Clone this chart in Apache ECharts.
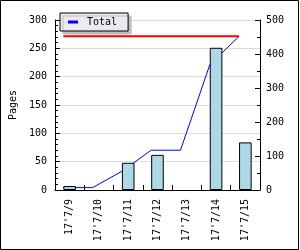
<!DOCTYPE html>
<html>
<head>
<meta charset="utf-8">
<script src="https://cdn.jsdelivr.net/npm/echarts@6/dist/echarts.min.js"></script>
<style>
  html, body { margin: 0; padding: 0; background: #fff; }
  #chart { width: 300px; height: 250px; }
</style>
</head>
<body>
<div id="chart"></div>
<script>
const categories = ["17'7/9", "17'7/10", "17'7/11", "17'7/12", "17'7/13", "17'7/14", "17'7/15"];
const pages = [7, 0, 48, 62, 0, 251, 84];
const total = [7, 7, 55, 117, 117, 368, 452];
const limit = [452, 452, 452, 452, 452, 452, 452];
const leftTicks = { min: 0, max: 300, interval: 50, minorInterval: 10 };
const rightTicks = { min: 0, max: 500, interval: 100, minorInterval: 50 };

const FONT = 'DejaVu Sans Mono';
const BAR_FRAC = 0.43;
const BAR_LEFT = (1 - BAR_FRAC) / 2;

function minorAxis(t, position) {
  return {
    type: 'value', position: position,
    min: t.min, max: t.max, interval: t.minorInterval,
    axisLine: { show: false },
    axisTick: { show: true, inside: true, length: 3, lineStyle: { color: '#000', width: 1 } },
    axisLabel: { show: false },
    splitLine: { show: false }
  };
}

const chart = echarts.init(document.getElementById('chart'), null, { renderer: 'canvas' });
chart.setOption({
  animation: false,
  backgroundColor: '#ffffff',
  textStyle: { fontFamily: FONT },
  graphic: [{
    type: 'rect', silent: true, z: 100,
    shape: { x: 0.5, y: 0.5, width: 298, height: 249 },
    style: { fill: 'none', stroke: '#000', lineWidth: 1 }
  }],
  grid: { left: 41, right: 40, top: 20, bottom: 60, containLabel: false },
  legend: {
    data: ['Total'],
    left: 60, top: 13,
    padding: [4, 11, 4, 8],
    backgroundColor: '#eceaf0',
    borderColor: '#000', borderWidth: 1,
    shadowColor: '#bdbdbd', shadowBlur: 0, shadowOffsetX: 3, shadowOffsetY: 3,
    icon: 'rect', itemWidth: 10, itemHeight: 3,
    textStyle: { fontFamily: FONT, fontSize: 10, color: '#000', padding: [0, 0, 0, 4] }
  },
  xAxis: [{
    type: 'category',
    data: categories,
    boundaryGap: true,
    axisLine: { lineStyle: { color: '#000', width: 1 } },
    axisTick: { show: true, inside: true, length: 5, lineStyle: { color: '#000' } },
    axisLabel: { rotate: 90, margin: 9, fontFamily: FONT, fontSize: 10, color: '#000' },
    splitLine: { show: false }
  }, {
    type: 'value', min: 0, max: categories.length, show: false
  }],
  yAxis: [{
    type: 'value',
    min: leftTicks.min, max: leftTicks.max, interval: leftTicks.interval,
    name: 'Pages', nameLocation: 'middle', nameGap: 32,
    nameTextStyle: { fontFamily: FONT, fontSize: 10, color: '#000' },
    axisLine: { show: true, lineStyle: { color: '#000' } },
    axisTick: { show: true, inside: true, length: 5, lineStyle: { color: '#000' } },
    axisLabel: { margin: 8, fontFamily: FONT, fontSize: 10, color: '#000' },
    splitLine: { show: true, lineStyle: { color: '#dcdcdc', width: 1 } }
  }, {
    type: 'value', position: 'right',
    min: rightTicks.min, max: rightTicks.max, interval: rightTicks.interval,
    axisLine: { show: true, lineStyle: { color: '#000' } },
    axisTick: { show: true, inside: true, length: 5, lineStyle: { color: '#000' } },
    axisLabel: { margin: 6, fontFamily: FONT, fontSize: 10, color: '#000' },
    splitLine: { show: false }
  }, minorAxis(leftTicks, 'left'), minorAxis(rightTicks, 'right')],
  series: [{
    name: 'Pages', type: 'bar',
    xAxisIndex: 0, yAxisIndex: 0,
    data: pages.map(v => v === 0 ? { value: v, itemStyle: { borderWidth: 0 } } : v),
    barWidth: (BAR_FRAC * 100) + '%',
    z: 3,
    itemStyle: { color: '#add8e6', borderColor: '#000', borderWidth: 1 }
  }, {
    name: 'Total', type: 'line',
    xAxisIndex: 1, yAxisIndex: 1,
    data: total.map((v, i) => [i + BAR_LEFT, v]),
    symbol: 'none', z: 2,
    itemStyle: { color: '#0000ff' },
    lineStyle: { color: '#0000ff', width: 1 }
  }, {
    name: 'Limit', type: 'line',
    xAxisIndex: 1, yAxisIndex: 1,
    data: limit.map((v, i) => [i + BAR_LEFT, v]),
    symbol: 'none', z: 2,
    itemStyle: { color: '#ff0000' },
    lineStyle: { color: '#ff0000', width: 2 }
  }]
});
</script>
</body>
</html>
